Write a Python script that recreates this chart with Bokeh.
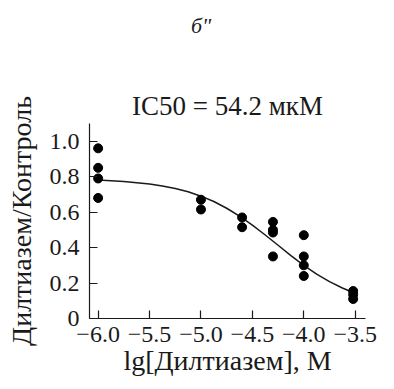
from bokeh.plotting import figure
from bokeh.models import FixedTicker, CustomJSTickFormatter, Range1d, Div
from bokeh.layouts import column
from bokeh.embed import file_html
from bokeh.resources import INLINE

# measured points: log10 concentration (M) and normalized response
dose_x = [-6.0, -6.0, -6.0, -6.0,
          -5.0, -5.0,
          -4.6, -4.6,
          -4.3, -4.3, -4.3, -4.3,
          -4.0, -4.0, -4.0, -4.0,
          -3.52, -3.52, -3.52]
response = [0.96, 0.85, 0.79, 0.68,
            0.67, 0.615,
            0.57, 0.515,
            0.545, 0.50, 0.485, 0.35,
            0.47, 0.35, 0.30, 0.24,
            0.155, 0.135, 0.11]

# fitted curve
fit_x = [-6.0, -5.75, -5.5, -5.375, -5.25, -5.125, -5.0, -4.875, -4.75, -4.625,
         -4.5, -4.375, -4.25, -4.125, -4.0, -3.875, -3.75, -3.625, -3.52]
fit_y = [0.781, 0.773, 0.759, 0.748, 0.733, 0.715, 0.690, 0.660, 0.622, 0.578,
         0.527, 0.471, 0.413, 0.355, 0.300, 0.250, 0.208, 0.172, 0.147]

x_ticks = [-6.0, -5.5, -5.0, -4.5, -4.0, -3.5]
y_ticks = [0, 0.2, 0.4, 0.6, 0.8, 1.0]

title_text = "IC50 = 54.2 мкМ"
panel_text = "б\""
x_label = "lg[Дилтиазем], М"
y_label = "Дилтиазем/Контроль"

FONT = "Liberation Serif"
INK = "#1a1a1a"

# panel letter above the chart
header = Div(
    text='<div style="margin-left:186px; margin-top:10px; line-height:22px;">'
         + panel_text + '</div>',
    width=378, height=40,
    styles={"font-family": "'Liberation Serif', serif", "font-size": "22px",
            "font-style": "italic", "color": INK})

p = figure(width=378, height=333, output_backend="svg", toolbar_location=None,
           x_range=Range1d(-6.084, -3.40), y_range=Range1d(0, 1.10),
           min_border_left=89, min_border_right=13, min_border_top=73,
           min_border_bottom=65, title=title_text)
p.outline_line_color = None
p.grid.visible = False
p.background_fill_color = "white"
p.border_fill_color = "white"

p.title.text_font = FONT
p.title.text_font_size = "27px"
p.title.text_font_style = "normal"
p.title.text_color = INK
p.title.align = "center"
p.title.standoff = 5

for ax in (p.xaxis[0], p.yaxis[0]):
    ax.axis_line_color = INK
    ax.axis_line_width = 1.2
    ax.major_tick_line_color = INK
    ax.major_tick_line_width = 1.2
    ax.major_tick_in = 8
    ax.major_tick_out = 0
    ax.minor_tick_line_color = None
    ax.major_label_text_font = FONT
    ax.major_label_text_font_size = "24px"
    ax.major_label_text_color = INK
    ax.axis_label_text_font = FONT
    ax.axis_label_text_font_size = "28px"
    ax.axis_label_text_font_style = "normal"
    ax.axis_label_text_color = INK

p.xaxis.ticker = FixedTicker(ticks=x_ticks)
p.yaxis.ticker = FixedTicker(ticks=y_ticks)
p.xaxis.formatter = CustomJSTickFormatter(code="return tick.toFixed(1).replace('-', '\u2212');")
p.yaxis.formatter = CustomJSTickFormatter(code="return tick == 0 ? '0' : tick.toFixed(1);")
p.xaxis.major_label_standoff = 8
p.yaxis.major_label_standoff = 10
p.xaxis.axis_label = x_label
p.yaxis.axis_label = y_label
p.xaxis.axis_label_standoff = 0
p.yaxis.axis_label_standoff = 10

p.line(fit_x, fit_y, line_color=INK, line_width=1.5)
p.scatter(dose_x, response, size=9, fill_color="black", line_color="black")

layout = column(header, p, spacing=0)
open("out.html", "w").write(file_html(layout, INLINE))
